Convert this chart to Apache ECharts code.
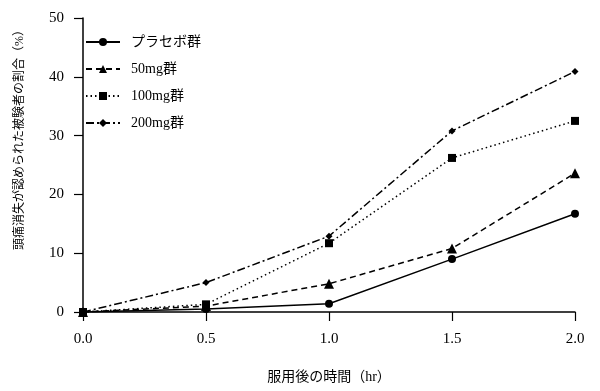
<!DOCTYPE html>
<html><head><meta charset="utf-8">
<script src="https://cdn.jsdelivr.net/npm/echarts@6/dist/echarts.min.js"></script>
<style>html,body{margin:0;padding:0;background:#fff}#c{width:600px;height:391px}</style>
</head><body><div id="c"></div>
<script>
const times = [0.0, 0.5, 1.0, 1.5, 2.0];
const seriesNames = ['プラセボ群', '50mg群', '100mg群', '200mg群'];
const placebo = [0, 0.5, 1.4, 9.0, 16.7];
const mg50 = [0, 1.0, 4.8, 10.8, 23.6];
const mg100 = [0, 1.3, 11.7, 26.2, 32.5];
const mg200 = [0, 5.0, 12.9, 30.8, 40.9];
const xTicks = ['0.0', '0.5', '1.0', '1.5', '2.0'];
const yTicks = [0, 10, 20, 30, 40, 50];

const FONT = '"Liberation Serif", "Noto Sans CJK JP", serif';
const mk = (name, data, symbol, size, type) => ({
  name, type: 'line', data: data.map((v, i) => [times[i], v]),
  symbol, symbolSize: size, color: '#000',
  lineStyle: { color: '#000', width: 1.5, type },
  itemStyle: { color: '#000' }, animation: false
});
const chart = echarts.init(document.getElementById('c'), null, { renderer: 'canvas' });
chart.setOption({
  backgroundColor: '#fff',
  animation: false,
  textStyle: { fontFamily: FONT, color: '#000' },
  grid: { left: 83, right: 25, top: 18, bottom: 79 },
  legend: {
    orient: 'vertical', left: 80, top: 30, itemWidth: 34, itemHeight: 10, itemGap: 13,
    textStyle: { fontFamily: FONT, fontSize: 14, color: '#000', padding: [0, 0, 0, 6] },
    data: seriesNames
  },
  xAxis: {
    type: 'value', min: 0, max: 2, interval: 0.5,
    axisLine: { lineStyle: { color: '#000', width: 1.5 } },
    axisTick: { lineStyle: { color: '#000', width: 1.2 }, length: 9 },
    splitLine: { show: false },
    axisLabel: { color: '#000', fontSize: 15, margin: 20, fontFamily: FONT,
      formatter: v => xTicks[Math.round(v / 0.5)] },
    name: '服用後の時間（hr）', nameLocation: 'middle', nameGap: 58,
    nameTextStyle: { color: '#000', fontSize: 14, fontFamily: FONT }
  },
  yAxis: {
    type: 'value', min: 0, max: 50, interval: 10,
    axisLine: { show: true, lineStyle: { color: '#000', width: 1.5 } },
    axisTick: { show: true, lineStyle: { color: '#000', width: 1.2 }, length: 9 },
    splitLine: { show: false },
    axisLabel: { color: '#000', fontSize: 15, margin: 19, fontFamily: FONT,
      formatter: v => String(yTicks[Math.round(v / 10)]) },
    name: '頭痛消失が認められた被験者の割合（%）', nameLocation: 'middle', nameGap: 57,
    nameTextStyle: { color: '#000', fontSize: 12, fontFamily: FONT, padding: [0, 0, 0, 56] }
  },
  series: [
    mk(seriesNames[0], placebo, 'circle', 8, 'solid'),
    mk(seriesNames[1], mg50, 'triangle', 10, [6, 4]),
    mk(seriesNames[2], mg100, 'rect', 8, [1.5, 3]),
    mk(seriesNames[3], mg200, 'diamond', 7, [8, 3, 2, 3])
  ]
});
</script></body></html>
